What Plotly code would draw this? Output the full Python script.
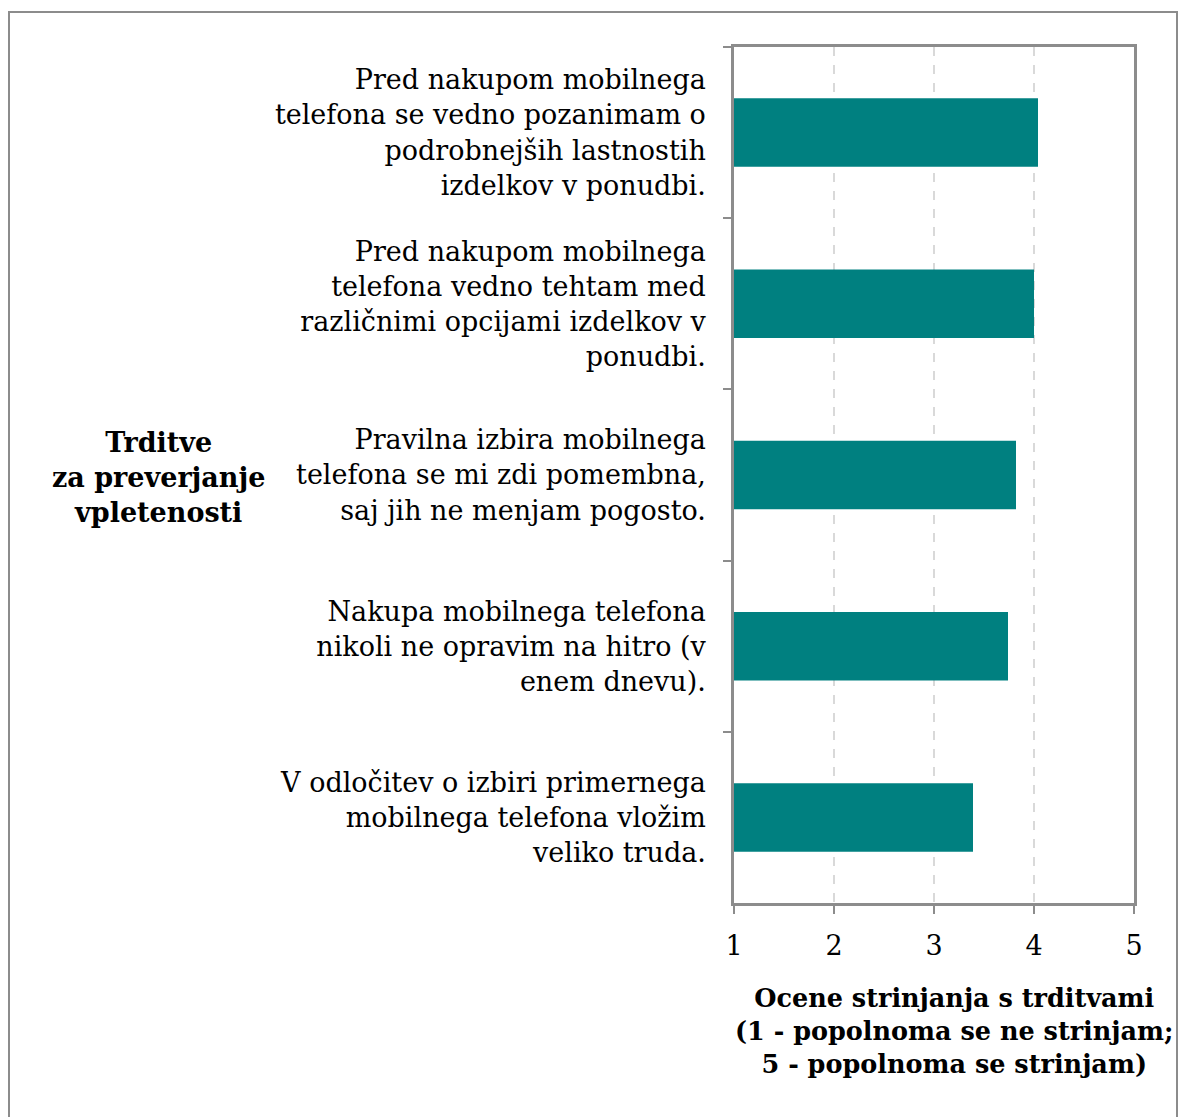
import plotly.graph_objects as go

categories = [
    "Pred nakupom mobilnega<br>telefona se vedno pozanimam o<br>podrobnejših lastnostih<br>izdelkov v ponudbi.",
    "Pred nakupom mobilnega<br>telefona vedno tehtam med<br>različnimi opcijami izdelkov v<br>ponudbi.",
    "Pravilna izbira mobilnega<br>telefona se mi zdi pomembna,<br>saj jih ne menjam pogosto.",
    "Nakupa mobilnega telefona<br>nikoli ne opravim na hitro (v<br>enem dnevu).",
    "V odločitev o izbiri primernega<br>mobilnega telefona vložim<br>veliko truda.",
]
values = [4.04, 4.00, 3.82, 3.74, 3.39]
x_ticks = [1, 2, 3, 4, 5]
y_title = "<b>Trditve<br>za preverjanje<br>vpletenosti</b>"
x_title = "<b>Ocene strinjanja s trditvami<br>(1 - popolnoma se ne strinjam;<br>5 - popolnoma se strinjam)</b>"

W, H = 1182, 1117
L, R, T, B = 734, 48, 47, 214
pw, ph = W - L - R, H - T - B

def px(x):
    return (x - L) / pw

def py(y):
    return 1 - (y - T) / ph

FONT = "DejaVu Serif"

fig = go.Figure()
fig.add_trace(go.Bar(
    y=categories, x=values, orientation="h",
    marker=dict(color="#008080", line=dict(width=0)),
    width=0.4,
))

fig.update_layout(
    width=W, height=H,
    margin=dict(l=L, r=R, t=T, b=B),
    plot_bgcolor="white", paper_bgcolor="white",
    font=dict(family=FONT, size=27, color="black"),
    showlegend=False,
    bargap=0.6,
)
fig.update_xaxes(
    range=[1, 5], tickvals=x_ticks, ticktext=[str(v) for v in x_ticks],
    showgrid=True, gridcolor="#d9d9d9", griddash="dash", gridwidth=2,
    showline=True, linecolor="#8c8c8c", linewidth=2.5, mirror=True,
    ticks="outside", ticklen=8, tickwidth=2, tickcolor="#8c8c8c",
    ticklabelstandoff=9,
    zeroline=False, fixedrange=True,
    tickfont=dict(family=FONT, size=27),
)
fig.update_yaxes(
    autorange="reversed",
    showgrid=False,
    showline=True, linecolor="#8c8c8c", linewidth=2.5, mirror=True,
    ticks="outside", ticklen=8, tickwidth=2, tickcolor="#8c8c8c",
    tickson="boundaries", ticklabelstandoff=20,
    tickfont=dict(family=FONT, size=27),
    fixedrange=True,
)

fig.add_annotation(
    x=px(158), y=py(477), xref="paper", yref="paper",
    text=y_title, showarrow=False, align="center",
    font=dict(family=FONT, size=27, color="black"),
    xanchor="center", yanchor="middle",
)
fig.add_annotation(
    x=px(954), y=py(1031), xref="paper", yref="paper",
    text=x_title, showarrow=False, align="center",
    font=dict(family=FONT, size=25.5, color="black"),
    xanchor="center", yanchor="middle",
)
fig.add_shape(
    type="rect", xref="paper", yref="paper",
    x0=px(9), x1=px(1177), y0=py(1125), y1=py(12),
    line=dict(color="#8c8c8c", width=2), fillcolor="rgba(0,0,0,0)",
    layer="below",
)

fig.write_html("out.html")
